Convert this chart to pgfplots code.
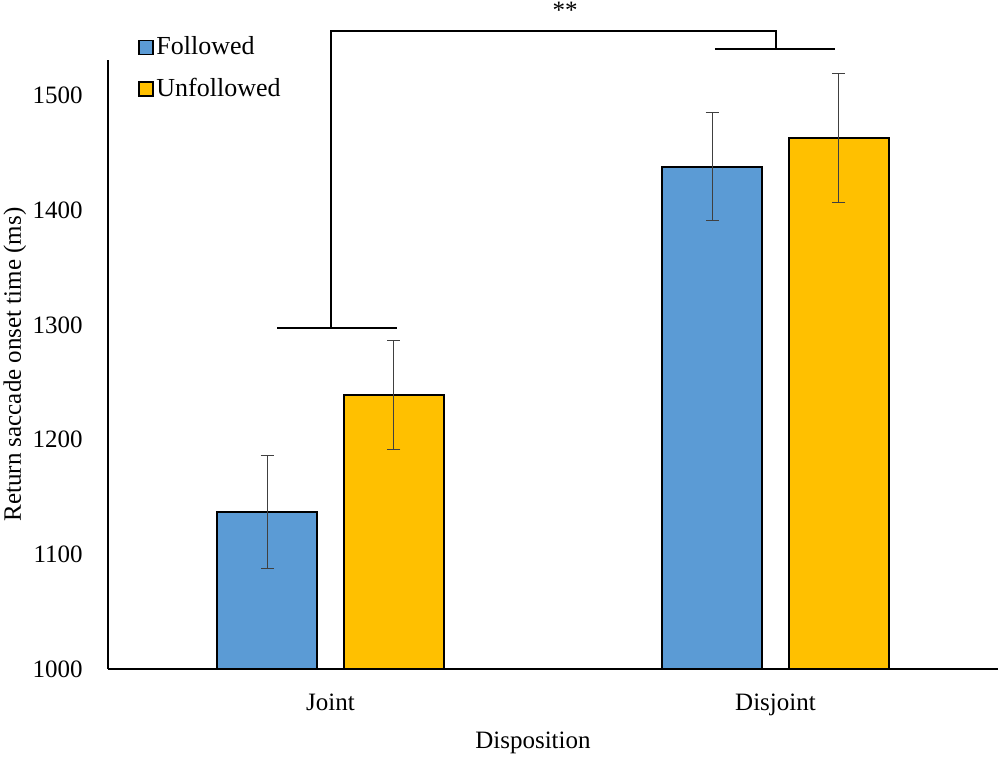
\documentclass[border=0pt]{standalone}
\usepackage{pgfplots}
\pgfplotsset{compat=1.18}
\usepackage{fontspec}
\setmainfont{Liberation Serif}
\definecolor{cblue}{HTML}{5B9BD5}
\definecolor{cgold}{HTML}{FFC000}
\begin{document}
\fontsize{12.5}{15}\selectfont
\begin{tikzpicture}
\begin{axis}[
  scale only axis, width=445pt, height=304.5pt,
  xmin=-0.5, xmax=1.5, ymin=1000, ymax=1531,
  axis lines=left, axis line style={-, line width=0.8pt, black},
  clip=false,
  xtick={0,1}, xticklabels={Joint,Disjoint},
  ytick={1000,1100,1200,1300,1400,1500},
  major tick length=0pt,
  /pgf/number format/assume math mode=true,
  /pgf/number format/1000 sep={},
  tick label style={font=\fontsize{12.5}{15}\selectfont},
  yticklabel style={anchor=east, inner sep=0pt, xshift=-12.5pt},
  xticklabel style={anchor=base, inner sep=0pt, yshift=-21pt},
  ylabel={Return saccade onset time (ms)},
  ylabel style={at={(axis description cs:-0.1045,0.5)}, anchor=center, font=\fontsize{12.5}{15}\selectfont},
  xlabel={Disposition},
  xlabel style={at={(axis description cs:0.4775,-0.1215)}, anchor=center, font=\fontsize{12.5}{15}\selectfont},
  legend style={draw=none, fill=none, at={(axis description cs:0.0337,1.043)}, anchor=north west,
    inner sep=0pt, row sep=7.5pt, font=\fontsize{13}{15}\selectfont,
    nodes={inner sep=1.2pt}},
  legend cell align=left,
]
\addplot[ybar, bar width=0.225, bar shift=0, fill=cblue, draw=black, line width=1pt,
  legend image code/.code={\draw[fill=cblue, draw=black, line width=0.8pt] (0pt,-3.5pt) rectangle (7pt,3.5pt);},
  error bars/.cd, y dir=both, y explicit,
  error bar style={line width=0.55pt, color=black!75},
  error mark options={rotate=90, mark size=3.25pt, line width=0.55pt, color=black!75}]
  coordinates {(-0.1425,1137) +- (0,49) (0.8575,1438) +- (0,47)};
\addlegendentry{Followed}
\addplot[ybar, bar width=0.225, bar shift=0, fill=cgold, draw=black, line width=1pt,
  legend image code/.code={\draw[fill=cgold, draw=black, line width=0.8pt] (0pt,-3.5pt) rectangle (7pt,3.5pt);},
  error bars/.cd, y dir=both, y explicit,
  error bar style={line width=0.55pt, color=black!75},
  error mark options={rotate=90, mark size=3.25pt, line width=0.55pt, color=black!75}]
  coordinates {(0.1425,1239) +- (0,47.5) (1.1425,1463) +- (0,56)};
\addlegendentry{Unfollowed}
\draw[line width=1pt] (axis cs:-0.12,1297) -- (axis cs:0.149,1297);
\draw[line width=1pt] (axis cs:0,1297) -- (axis cs:0,1556.6) -- (axis cs:1,1556.6) -- (axis cs:1,1541);
\draw[line width=1pt] (axis cs:0.864,1541) -- (axis cs:1.134,1541);
\node[font=\fontsize{12.5}{15}\selectfont, inner sep=0pt] at (axis cs:0.527,1574) {**};
\end{axis}
\pgfresetboundingbox
\path[use as bounding box] (-54pt,-44.5pt) rectangle (446pt,334.5pt);
\end{tikzpicture}
\end{document}
